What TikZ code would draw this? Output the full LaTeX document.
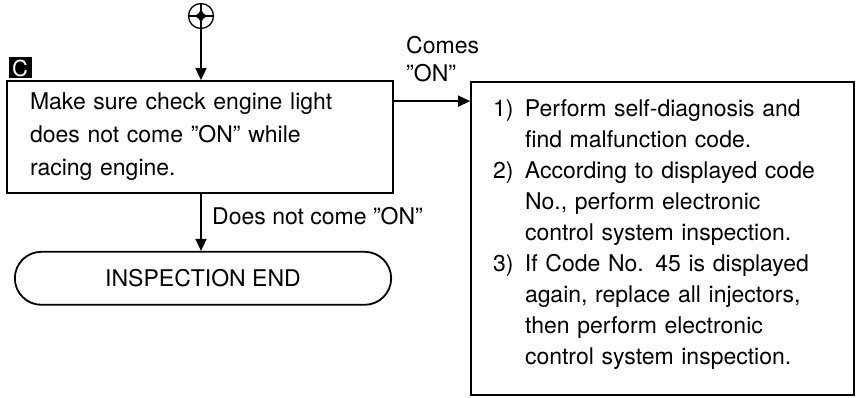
\documentclass[tikz,border=0pt]{standalone}
\usepackage{fontspec}
\setmainfont{TeX Gyre Heros}
\usetikzlibrary{arrows.meta,positioning,shapes.misc,calc}
\tikzset{
  box/.style={rectangle, draw=black, line width=1.8pt, align=left, inner ysep=0pt,
              font=\fontsize{23}{33}\selectfont},
  endbox/.style={rounded rectangle, draw=black, line width=1.8pt, minimum width=383pt,
                 minimum height=53pt, font=\fontsize{23}{27}\selectfont},
  tag/.style={rectangle, fill=black, text=white, inner sep=0pt, minimum width=23pt,
              minimum height=21pt, font=\fontsize{22}{22}\selectfont},
  lbl/.style={align=left, inner sep=0pt, font=\fontsize{23}{28}\selectfont},
  joint/.style={circle, draw=black, line width=1.3pt, minimum size=25pt, inner sep=0pt},
  flow/.style={-{Triangle[length=12pt,width=11pt]}, draw=black, line width=1.6pt}
}
\newcommand{\num}[1]{\makebox[32pt][l]{#1}}
\newcommand{\cont}{\hspace*{32pt}}

\begin{document}
\begin{tikzpicture}[x=1pt, y=-1pt]
  \useasboundingbox (0,0) rectangle (859,398);
  \node[joint] (joint) at (201,16) {};
  \draw[line width=1.1pt] (joint.north) -- (joint.south) (joint.west) -- (joint.east);
  \fill[shift={(joint.center)}] (0,-8) .. controls (2,-2) .. (8,0) .. controls (2,2) .. (0,8)
    .. controls (-2,2) .. (-8,0) .. controls (-2,-2) .. cycle;
  \node[tag] (tagc) at (20,68) {C};
  \node[box, minimum width=386pt, minimum height=112pt, text width=340pt, inner xsep=23pt]
    (chk) at (200,137) {Make sure check engine light\\ does not come ''ON'' while\\ racing engine.};
  \node[endbox, below=57pt of chk, xshift=3pt] (endn) {INSPECTION END};
  \node[box, minimum width=383pt, minimum height=313pt, text width=339pt, inner xsep=22pt,
        font=\fontsize{23}{31}\selectfont] (res) at (662.5,238.5)
    {\num{1)}Perform self-diagnosis and\\ \cont find malfunction code.\\
     \num{2)}According to displayed code\\ \cont No., perform electronic\\
     \cont control system inspection.\\
     \num{3)}If Code No. 45 is displayed\\ \cont again, replace all injectors,\\
     \cont then perform electronic\\ \cont control system inspection.\rule[-12pt]{0pt}{12pt}};
  \node[lbl, anchor=west] (comes) at (406,59) {Comes\\''ON''};
  \node[lbl, anchor=west] (noton) at (212,216) {Does not come ''ON''};
  \draw[flow] (joint.south) -- (joint |- chk.north);
  \draw[flow] (joint |- chk.south) -- (joint |- endn.north);
  \draw[flow] ([yshift=-21pt]chk.north east) -- ([yshift=-21pt]chk.north east -| res.west);
\end{tikzpicture}
\end{document}
